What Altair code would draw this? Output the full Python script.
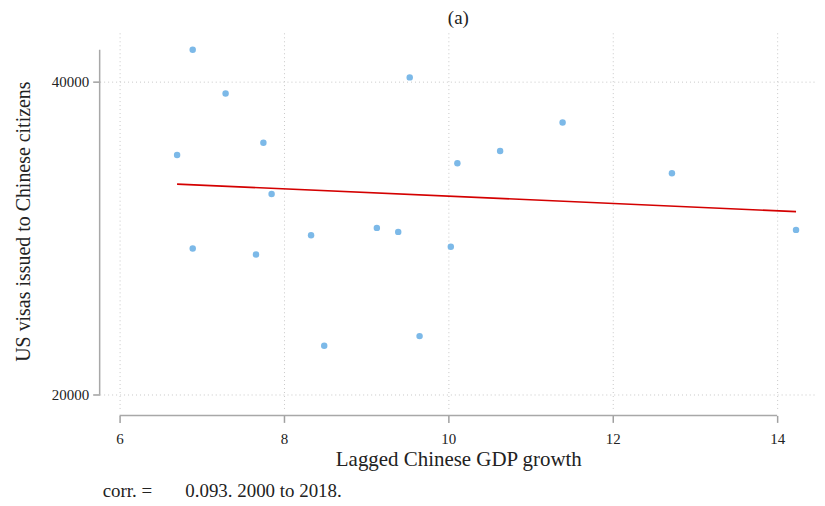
import altair as alt
import pandas as pd

# Lagged Chinese GDP growth (x) and US visas issued to Chinese citizens (y), 2000-2018
gdp_growth = [6.89, 7.29, 6.70, 7.75, 7.85, 8.33, 9.13, 9.39, 6.89, 7.66,
              8.49, 9.65, 9.53, 10.11, 10.63, 11.39, 12.72, 14.23, 10.03]
visas = [42035, 39237, 35313, 36095, 32813, 30180, 30651, 30396, 29334, 28953,
         23116, 23733, 40273, 34785, 35567, 37392, 34149, 30524, 29442]

# fitted line endpoints
fit_x = [6.70, 14.23]
fit_y = [33450, 31690]

x_ticks = [6, 8, 10, 12, 14]
y_ticks = [20000, 40000]
x_axis_span = [6, 14]
y_axis_span = [20000, 42035]

FONT = "Liberation Serif"
W, H = 720, 378
XDOM = [5.758, 14.485]
YDOM = [19045, 43121]

pts = pd.DataFrame({"x": gdp_growth, "y": visas})
fit = pd.DataFrame({"x": fit_x, "y": fit_y})

xs = alt.Scale(domain=XDOM, nice=False, zero=False)
ys = alt.Scale(domain=YDOM, nice=False, zero=False)

xaxis = alt.Axis(values=x_ticks, format="d", title="Lagged Chinese GDP growth", domain=False,
                 offset=6, tickSize=7, tickColor="#a0a0a0", tickWidth=1.5,
                 labelFont=FONT, labelFontSize=15, labelColor="#222", labelPadding=9,
                 titleFont=FONT, titleFontSize=21, titleFontWeight="normal",
                 titleColor="#222", titlePadding=2,
                 grid=True, gridDash=[1, 3], gridColor="#c8c8c8", gridWidth=1)
yaxis = alt.Axis(values=y_ticks, format="d", title="US visas issued to Chinese citizens", domain=False,
                 tickSize=7, tickColor="#a0a0a0", tickWidth=1.5,
                 labelFont=FONT, labelFontSize=15, labelColor="#222", labelPadding=4,
                 titleFont=FONT, titleFontSize=20, titleFontWeight="normal",
                 titleColor="#222", titlePadding=18,
                 grid=True, gridDash=[1, 3], gridColor="#c8c8c8", gridWidth=1)

base = alt.Chart(pts).mark_circle(size=42, color="#7cb9e8", opacity=1).encode(
    x=alt.X("x:Q", scale=xs, axis=xaxis),
    y=alt.Y("y:Q", scale=ys, axis=yaxis),
)

line = alt.Chart(fit).mark_line(color="#d40000", strokeWidth=1.6).encode(
    x=alt.X("x:Q", scale=xs), y=alt.Y("y:Q", scale=ys)
)

xdom = alt.Chart(pd.DataFrame({"a": [x_axis_span[0]], "b": [x_axis_span[1]]})).mark_rule(
    color="#a8a8a8", strokeWidth=1.5).encode(
    x=alt.X("a:Q", scale=xs), x2="b:Q", y=alt.value(H + 6))

ydom = alt.Chart(pd.DataFrame({"a": [y_axis_span[0]], "b": [y_axis_span[1]]})).mark_rule(
    color="#a8a8a8", strokeWidth=1.5).encode(
    y=alt.Y("a:Q", scale=ys), y2="b:Q", x=alt.value(0))

nb = "\u00a0"
footer = alt.Chart(pd.DataFrame({"t": [f"corr. ={nb * 7}0.093. 2000 to 2018."]})).mark_text(
    font=FONT, fontSize=19, color="#222", align="left", baseline="middle").encode(
    text="t:N", x=alt.value(3), y=alt.value(H + 82))

chart = alt.layer(base, line, xdom, ydom, footer).properties(
    width=W, height=H,
    title=alt.TitleParams("(a)", font=FONT, fontSize=19, fontWeight="normal",
                          color="#222", anchor="middle", offset=5),
    autosize=alt.AutoSizeParams(type="none"),
    padding={"left": 92, "top": 24, "right": 0, "bottom": 96},
).configure_view(stroke=None)

chart.save("out.html", embed_options={"renderer": "svg", "actions": False})
